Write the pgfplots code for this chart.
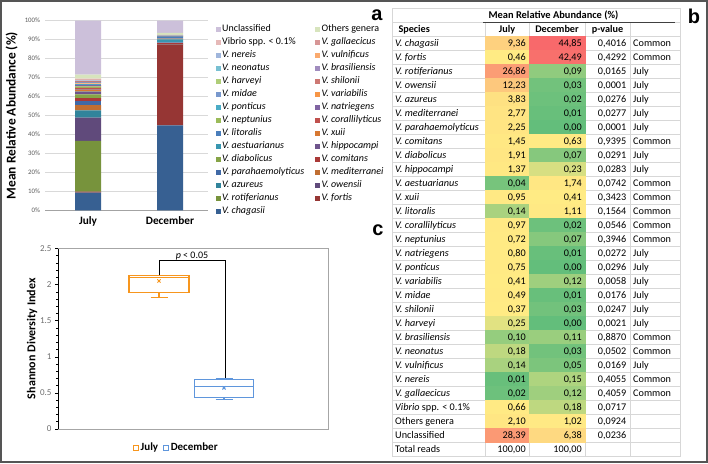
\documentclass[border=0pt]{standalone}
\usepackage{fontspec}
\setmainfont{Carlito}
\newfontfamily\arialfont{Liberation Sans}
\usepackage{pgfplots}
\pgfplotsset{compat=1.18}
\usepackage{pgfplotstable}
\protected\def\vi#1{{\itshape #1}}
\newcommand\tabfont{\fontsize{10.2}{12}\selectfont}

\definecolor{c1}{RGB}{55,96,146}
\definecolor{c2}{RGB}{150,54,52}
\definecolor{c3}{RGB}{119,147,60}
\definecolor{c4}{RGB}{96,74,123}
\definecolor{c5}{RGB}{49,132,155}
\definecolor{c6}{RGB}{192,110,50}
\definecolor{c7}{RGB}{64,105,166}
\definecolor{c8}{RGB}{170,57,55}
\definecolor{c9}{RGB}{134,164,71}
\definecolor{c10}{RGB}{110,84,140}
\definecolor{c11}{RGB}{56,150,176}
\definecolor{c12}{RGB}{215,120,50}
\definecolor{c13}{RGB}{74,126,187}
\definecolor{c14}{RGB}{192,80,77}
\definecolor{c15}{RGB}{155,187,89}
\definecolor{c16}{RGB}{128,100,162}
\definecolor{c17}{RGB}{75,172,198}
\definecolor{c18}{RGB}{247,150,70}
\definecolor{c19}{RGB}{120,152,205}
\definecolor{c20}{RGB}{205,120,115}
\definecolor{c21}{RGB}{175,205,120}
\definecolor{c22}{RGB}{160,140,190}
\definecolor{c23}{RGB}{120,192,210}
\definecolor{c24}{RGB}{250,170,110}
\definecolor{c25}{RGB}{160,182,220}
\definecolor{c26}{RGB}{215,150,150}
\definecolor{c27}{RGB}{230,185,184}
\definecolor{c28}{RGB}{215,228,189}
\definecolor{c29}{RGB}{204,192,218}
\definecolor{bargrid}{RGB}{217,217,217}
\definecolor{tgrid}{RGB}{215,215,215}
\definecolor{ticktxt}{RGB}{89,89,89}
\definecolor{boxtick}{RGB}{110,110,110}
\definecolor{julyc}{RGB}{247,150,30}
\definecolor{decc}{RGB}{95,150,220}
\definecolor{frame}{RGB}{85,85,85}

\pgfplotsset{/pgf/number format/assume math mode=true,
  colormap={excel}{rgb255(0pt)=(99,190,123); rgb255(0.31pt)=(255,235,132); rgb255(44.85pt)=(248,105,107)},
  bs/.style={fill=#1, draw=none},
  bx/.style={#1, line width=1.2pt, forget plot},
  txt/.style={only marks, mark=*, mark size=0pt, mark options={draw=none,fill=none},
    nodes near coords, every node near coord/.append style={inner sep=0pt, font=\tabfont, text=black}},
}

% table values: July and December mean relative abundance (%)
\pgfplotstableread{
k july dec
0 9.36 44.85
1 0.46 42.49
2 26.86 0.09
3 12.23 0.03
4 3.83 0.02
5 2.77 0.01
6 2.25 0.00
7 1.45 0.63
8 1.91 0.07
9 1.37 0.23
10 0.04 1.74
11 0.95 0.41
12 0.14 1.11
13 0.97 0.02
14 0.72 0.07
15 0.80 0.01
16 0.75 0.00
17 0.41 0.12
18 0.49 0.01
19 0.37 0.03
20 0.25 0.00
21 0.10 0.11
22 0.18 0.03
23 0.14 0.05
24 0.01 0.15
25 0.02 0.12
26 0.66 0.18
27 2.10 1.02
28 28.39 6.38
29 100 100
}\abund

\pgfplotstableread{
k p
0 0.4016
1 0.4292
2 0.0165
3 0.0001
4 0.0276
5 0.0277
6 0.0001
7 0.9395
8 0.0291
9 0.0283
10 0.0742
11 0.3423
12 0.1564
13 0.0546
14 0.3946
15 0.0272
16 0.0296
17 0.0058
18 0.0176
19 0.0247
20 0.0021
21 0.8870
22 0.0502
23 0.0169
24 0.4055
25 0.4059
26 0.0717
27 0.0924
28 0.0236
}\pvals

\pgfplotstableread{
k g
0 Common
1 Common
2 July
3 July
4 July
5 July
6 July
7 Common
8 July
9 July
10 Common
11 Common
12 Common
13 Common
14 Common
15 July
16 July
17 July
18 July
19 July
20 July
21 Common
22 Common
23 July
24 Common
25 Common
}\grp

\pgfplotstableread[col sep=&, row sep=\\]{
k&name\\
0&\vi{V. chagasii}\\
1&\vi{V. fortis}\\
2&\vi{V. rotiferianus}\\
3&\vi{V. owensii}\\
4&\vi{V. azureus}\\
5&\vi{V. mediterranei}\\
6&\vi{V. parahaemolyticus}\\
7&\vi{V. comitans}\\
8&\vi{V. diabolicus}\\
9&\vi{V. hippocampi}\\
10&\vi{V. aestuarianus}\\
11&\vi{V. xuii}\\
12&\vi{V. litoralis}\\
13&\vi{V. corallilyticus}\\
14&\vi{V. neptunius}\\
15&\vi{V. natriegens}\\
16&\vi{V. ponticus}\\
17&\vi{V. variabilis}\\
18&\vi{V. midae}\\
19&\vi{V. shilonii}\\
20&\vi{V. harveyi}\\
21&\vi{V. brasiliensis}\\
22&\vi{V. neonatus}\\
23&\vi{V. vulnificus}\\
24&\vi{V. nereis}\\
25&\vi{V. gallaecicus}\\
26&\vi{Vibrio} spp. < 0.1\%\\
27&Others genera\\
28&Unclassified\\
29&Total reads\\
}\species

\begin{document}
\begin{tikzpicture}[x=1pt,y=1pt]

% ---------------- panel a: stacked bars
\begin{axis}[at={(45pt,252.7pt)}, anchor=south west, scale only axis,
  width=163pt, height=189.6pt,
  xmin=45, xmax=208, ymin=0, ymax=100,
  ybar stacked, bar width=26pt,
  xtick={88,170}, xticklabels={July,December},
  ytick={0,10,...,100},
  yticklabel={\pgfmathprintnumber{\tick}\%},
  ymajorgrids, grid style={draw=bargrid, line width=0.7pt},
  axis x line*=bottom, axis y line*=left,
  y axis line style={draw=none}, x axis line style={draw=bargrid!75!black, line width=0.7pt},
  major tick length=0pt,
  yticklabel style={font=\fontsize{6.8}{8}\selectfont, text=ticktxt, xshift=-1.5pt},
  xticklabel style={font=\bfseries\fontsize{11.3}{13}\selectfont, yshift=-3pt},
  ylabel={Mean Relative Abundance (\%)},
  every axis y label/.style={at={(axis description cs:-0.204,0.5)}, rotate=90, anchor=center,
    font=\bfseries\fontsize{13.4}{15}\selectfont},
  legend columns=2, reverse legend, legend cell align=left,
  legend image code/.code={\fill[#1] (0pt,-2.5pt) rectangle (5pt,2.5pt);},
  legend style={draw=none, fill=none, inner sep=0pt,
    at={(axis description cs:1.048,0.979)}, anchor=north west,
    font=\fontsize{10}{12}\selectfont, row sep=4.5pt,
    nodes={inner xsep=1.2pt, inner ysep=0pt, text height=6.7pt, text depth=1.8pt},
    /tikz/every even column/.append style={column sep=10pt}},
]
\addplot[bs=c1] coordinates {(88,9.36) (170,44.85)}; \addlegendentry{\textit{V. chagasii}}
\addplot[bs=c2] coordinates {(88,0.46) (170,42.49)}; \addlegendentry{\textit{V. fortis}}
\addplot[bs=c3] coordinates {(88,26.86) (170,0.09)}; \addlegendentry{\textit{V. rotiferianus}}
\addplot[bs=c4] coordinates {(88,12.23) (170,0.03)}; \addlegendentry{\textit{V. owensii}}
\addplot[bs=c5] coordinates {(88,3.83) (170,0.02)}; \addlegendentry{\textit{V. azureus}}
\addplot[bs=c6] coordinates {(88,2.77) (170,0.01)}; \addlegendentry{\textit{V. mediterranei}}
\addplot[bs=c7] coordinates {(88,2.25) (170,0.00)}; \addlegendentry{\textit{V. parahaemolyticus}}
\addplot[bs=c8] coordinates {(88,1.45) (170,0.63)}; \addlegendentry{\textit{V. comitans}}
\addplot[bs=c9] coordinates {(88,1.91) (170,0.07)}; \addlegendentry{\textit{V. diabolicus}}
\addplot[bs=c10] coordinates {(88,1.37) (170,0.23)}; \addlegendentry{\textit{V. hippocampi}}
\addplot[bs=c11] coordinates {(88,0.04) (170,1.74)}; \addlegendentry{\textit{V. aestuarianus}}
\addplot[bs=c12] coordinates {(88,0.95) (170,0.41)}; \addlegendentry{\textit{V. xuii}}
\addplot[bs=c13] coordinates {(88,0.14) (170,1.11)}; \addlegendentry{\textit{V. litoralis}}
\addplot[bs=c14] coordinates {(88,0.97) (170,0.02)}; \addlegendentry{\textit{V. corallilyticus}}
\addplot[bs=c15] coordinates {(88,0.72) (170,0.07)}; \addlegendentry{\textit{V. neptunius}}
\addplot[bs=c16] coordinates {(88,0.80) (170,0.01)}; \addlegendentry{\textit{V. natriegens}}
\addplot[bs=c17] coordinates {(88,0.75) (170,0.00)}; \addlegendentry{\textit{V. ponticus}}
\addplot[bs=c18] coordinates {(88,0.41) (170,0.12)}; \addlegendentry{\textit{V. variabilis}}
\addplot[bs=c19] coordinates {(88,0.49) (170,0.01)}; \addlegendentry{\textit{V. midae}}
\addplot[bs=c20] coordinates {(88,0.37) (170,0.03)}; \addlegendentry{\textit{V. shilonii}}
\addplot[bs=c21] coordinates {(88,0.25) (170,0.00)}; \addlegendentry{\textit{V. harveyi}}
\addplot[bs=c22] coordinates {(88,0.10) (170,0.11)}; \addlegendentry{\textit{V. brasiliensis}}
\addplot[bs=c23] coordinates {(88,0.18) (170,0.03)}; \addlegendentry{\textit{V. neonatus}}
\addplot[bs=c24] coordinates {(88,0.14) (170,0.05)}; \addlegendentry{\textit{V. vulnificus}}
\addplot[bs=c25] coordinates {(88,0.01) (170,0.15)}; \addlegendentry{\textit{V. nereis}}
\addplot[bs=c26] coordinates {(88,0.02) (170,0.12)}; \addlegendentry{\textit{V. gallaecicus}}
\addplot[bs=c27] coordinates {(88,0.66) (170,0.18)}; \addlegendentry{Vibrio spp. < 0.1\%}
\addplot[bs=c28] coordinates {(88,2.10) (170,1.02)}; \addlegendentry{Others genera}
\addplot[bs=c29] coordinates {(88,28.39) (170,6.38)}; \addlegendentry{Unclassified}
\end{axis}

% ---------------- panel c: box plot
\begin{axis}[at={(58pt,34pt)}, anchor=south west, scale only axis,
  width=270pt, height=180.5pt,
  xmin=58, xmax=328, ymin=0, ymax=2.5,
  xtick=\empty, ytick={0,0.5,1,1.5,2,2.5}, ytick pos=left,
  minor y tick num=4, tick align=outside,
  major tick length=3pt, minor tick length=1.6pt,
  tick style={black, line width=0.6pt},
  axis line style={draw=gray!70, line width=0.7pt},
  yticklabel style={font=\fontsize{9}{11}\selectfont, text=boxtick},
  ylabel={Shannon Diversity Index},
  every axis y label/.style={at={(axis description cs:-0.0963,0.5)}, rotate=90, anchor=center,
    font=\bfseries\fontsize{12}{14}\selectfont},
  legend columns=2,
  legend style={draw=none, fill=none, inner sep=0pt,
    at={(axis description cs:0.276,-0.1036)}, anchor=west,
    font=\bfseries\fontsize{11}{13}\selectfont,
    nodes={inner xsep=1.6pt, inner ysep=0pt},
    /tikz/every even column/.append style={column sep=3pt}},
]
\addplot[black, line width=0.7pt, forget plot] coordinates {(58,0) (58,2.5)};
% July box: Q1 1.89, median 2.10, Q3 2.125, whiskers 1.825 / 2.13
\addplot[bx=julyc] coordinates {(129,1.89) (189,1.89) (189,2.125) (129,2.125)} -- cycle;
\addplot[bx=julyc] coordinates {(129,2.10) (189,2.10)};
\addplot[bx=julyc] coordinates {(159,1.89) (159,1.825)};
\addplot[bx=julyc] coordinates {(150.5,1.825) (167.5,1.825)};
% December box: Q1 0.435, median 0.59, Q3 0.685, whiskers 0.41 / 0.70
\addplot[bx=decc] coordinates {(194.5,0.435) (253.5,0.435) (253.5,0.685) (194.5,0.685)} -- cycle;
\addplot[bx=decc] coordinates {(194.5,0.59) (253.5,0.59)};
\addplot[bx=decc] coordinates {(224,0.435) (224,0.41)};
\addplot[bx=decc] coordinates {(215.5,0.41) (232.5,0.41)};
\addplot[bx=decc] coordinates {(224,0.685) (224,0.70)};
\addplot[bx=decc] coordinates {(215.5,0.70) (232.5,0.70)};
% means
\addplot[julyc, only marks, mark=x, mark size=2.3pt, line width=1pt, forget plot] coordinates {(159,2.05)};
\addplot[decc, only marks, mark=x, mark size=2.3pt, line width=1pt, forget plot] coordinates {(224,0.57)};
% significance bracket
\addplot[black, line width=0.9pt, forget plot] coordinates {(159,2.13) (159,2.33) (225,2.33) (225,0.70)};
\node[font=\fontsize{10}{12}\selectfont] at (axis cs:192,2.40) {\textit{p} < 0.05};
\addlegendimage{legend image code/.code={\draw[julyc, line width=1.2pt] (0.6pt,-2.6pt) rectangle (5.8pt,2.6pt);}}
\addlegendentry{July}
\addlegendimage{legend image code/.code={\draw[decc, line width=1.2pt] (0.6pt,-2.6pt) rectangle (5.8pt,2.6pt);}}
\addlegendentry{December}
\end{axis}

% ---------------- panel b: table with heat map
\begin{axis}[at={(392pt,6.7pt)}, anchor=south west, scale only axis,
  width=288pt, height=434pt,
  xmin=392, xmax=680, ymin=-1, ymax=30, y dir=reverse, clip=false,
  xtick={392,485,529,585,630,680}, ytick={-1,0,...,30},
  xticklabels={}, yticklabels={}, major tick length=0pt,
  grid=major, grid style={draw=tgrid, line width=0.7pt},
  axis line style={draw=tgrid, line width=0.7pt},
  colormap name=excel, point meta min=0, point meta max=44.85,
]
\addplot[surf, shader=flat corner, mesh/cols=3, point meta=explicit] table[meta=m] {
x y m
485 0 9.36
529 0 44.85
585 0 0
485 1 0.46
529 1 42.49
585 1 0
485 2 26.86
529 2 0.09
585 2 0
485 3 12.23
529 3 0.03
585 3 0
485 4 3.83
529 4 0.02
585 4 0
485 5 2.77
529 5 0.01
585 5 0
485 6 2.25
529 6 0.00
585 6 0
485 7 1.45
529 7 0.63
585 7 0
485 8 1.91
529 8 0.07
585 8 0
485 9 1.37
529 9 0.23
585 9 0
485 10 0.04
529 10 1.74
585 10 0
485 11 0.95
529 11 0.41
585 11 0
485 12 0.14
529 12 1.11
585 12 0
485 13 0.97
529 13 0.02
585 13 0
485 14 0.72
529 14 0.07
585 14 0
485 15 0.80
529 15 0.01
585 15 0
485 16 0.75
529 16 0.00
585 16 0
485 17 0.41
529 17 0.12
585 17 0
485 18 0.49
529 18 0.01
585 18 0
485 19 0.37
529 19 0.03
585 19 0
485 20 0.25
529 20 0.00
585 20 0
485 21 0.10
529 21 0.11
585 21 0
485 22 0.18
529 22 0.03
585 22 0
485 23 0.14
529 23 0.05
585 23 0
485 24 0.01
529 24 0.15
585 24 0
485 25 0.02
529 25 0.12
585 25 0
485 26 0.66
529 26 0.18
585 26 0
485 27 2.10
529 27 1.02
585 27 0
485 28 28.39
529 28 6.38
585 28 0
485 29 0
529 29 0
585 29 0
};
\addplot[txt, point meta=explicit symbolic, every node near coord/.append style={anchor=base west}]
  table[x expr=395, y expr=\thisrow{k}+0.74, meta=name] {\species};
\addplot[txt, point meta=\thisrow{july},
  nodes near coords={\pgfmathprintnumber[fixed,fixed zerofill,precision=2,use comma]{\pgfplotspointmeta}},
  every node near coord/.append style={anchor=base east}]
  table[x expr=526, y expr=\thisrow{k}+0.74] {\abund};
\addplot[txt, point meta=\thisrow{dec},
  nodes near coords={\pgfmathprintnumber[fixed,fixed zerofill,precision=2,use comma]{\pgfplotspointmeta}},
  every node near coord/.append style={anchor=base east}]
  table[x expr=582, y expr=\thisrow{k}+0.74] {\abund};
\addplot[txt, point meta=\thisrow{p},
  nodes near coords={\pgfmathprintnumber[fixed,fixed zerofill,precision=4,use comma]{\pgfplotspointmeta}},
  every node near coord/.append style={anchor=base east}]
  table[x expr=626.5, y expr=\thisrow{k}+0.74] {\pvals};
\addplot[txt, point meta=explicit symbolic, every node near coord/.append style={anchor=base west}]
  table[x expr=633, y expr=\thisrow{k}+0.74, meta=g] {\grp};
\node[anchor=base west, font=\tabfont\bfseries] at (axis cs:395,-0.26) {Species};
\node[anchor=base, font=\tabfont\bfseries] at (axis cs:507,-0.26) {July};
\node[anchor=base, font=\tabfont\bfseries] at (axis cs:557,-0.26) {December};
\node[anchor=base, font=\tabfont\bfseries] at (axis cs:607.5,-0.26) {p-value};
\end{axis}

% table title row
\draw[tgrid, line width=0.7pt] (392,440.7) -- (392,455) -- (680,455) -- (680,440.7);
\node[font=\bfseries\fontsize{10.4}{12}\selectfont] at (553.5,447.3) {Mean Relative Abundance (\%)};
\draw[black!75, line width=1pt] (483,440.7) -- (675,440.7);

% panel letters
\node[anchor=base, font=\arialfont\bfseries\fontsize{20}{20}\selectfont] at (377,442) {a};
\node[anchor=base, font=\arialfont\bfseries\fontsize{20}{20}\selectfont] at (694,439) {b};
\node[anchor=base, font=\arialfont\bfseries\fontsize{20}{20}\selectfont] at (378,228) {c};

% outer frame (also the picture's extent)
\draw[frame, line width=2pt] (1,1) rectangle (707,462);
\end{tikzpicture}
\end{document}
